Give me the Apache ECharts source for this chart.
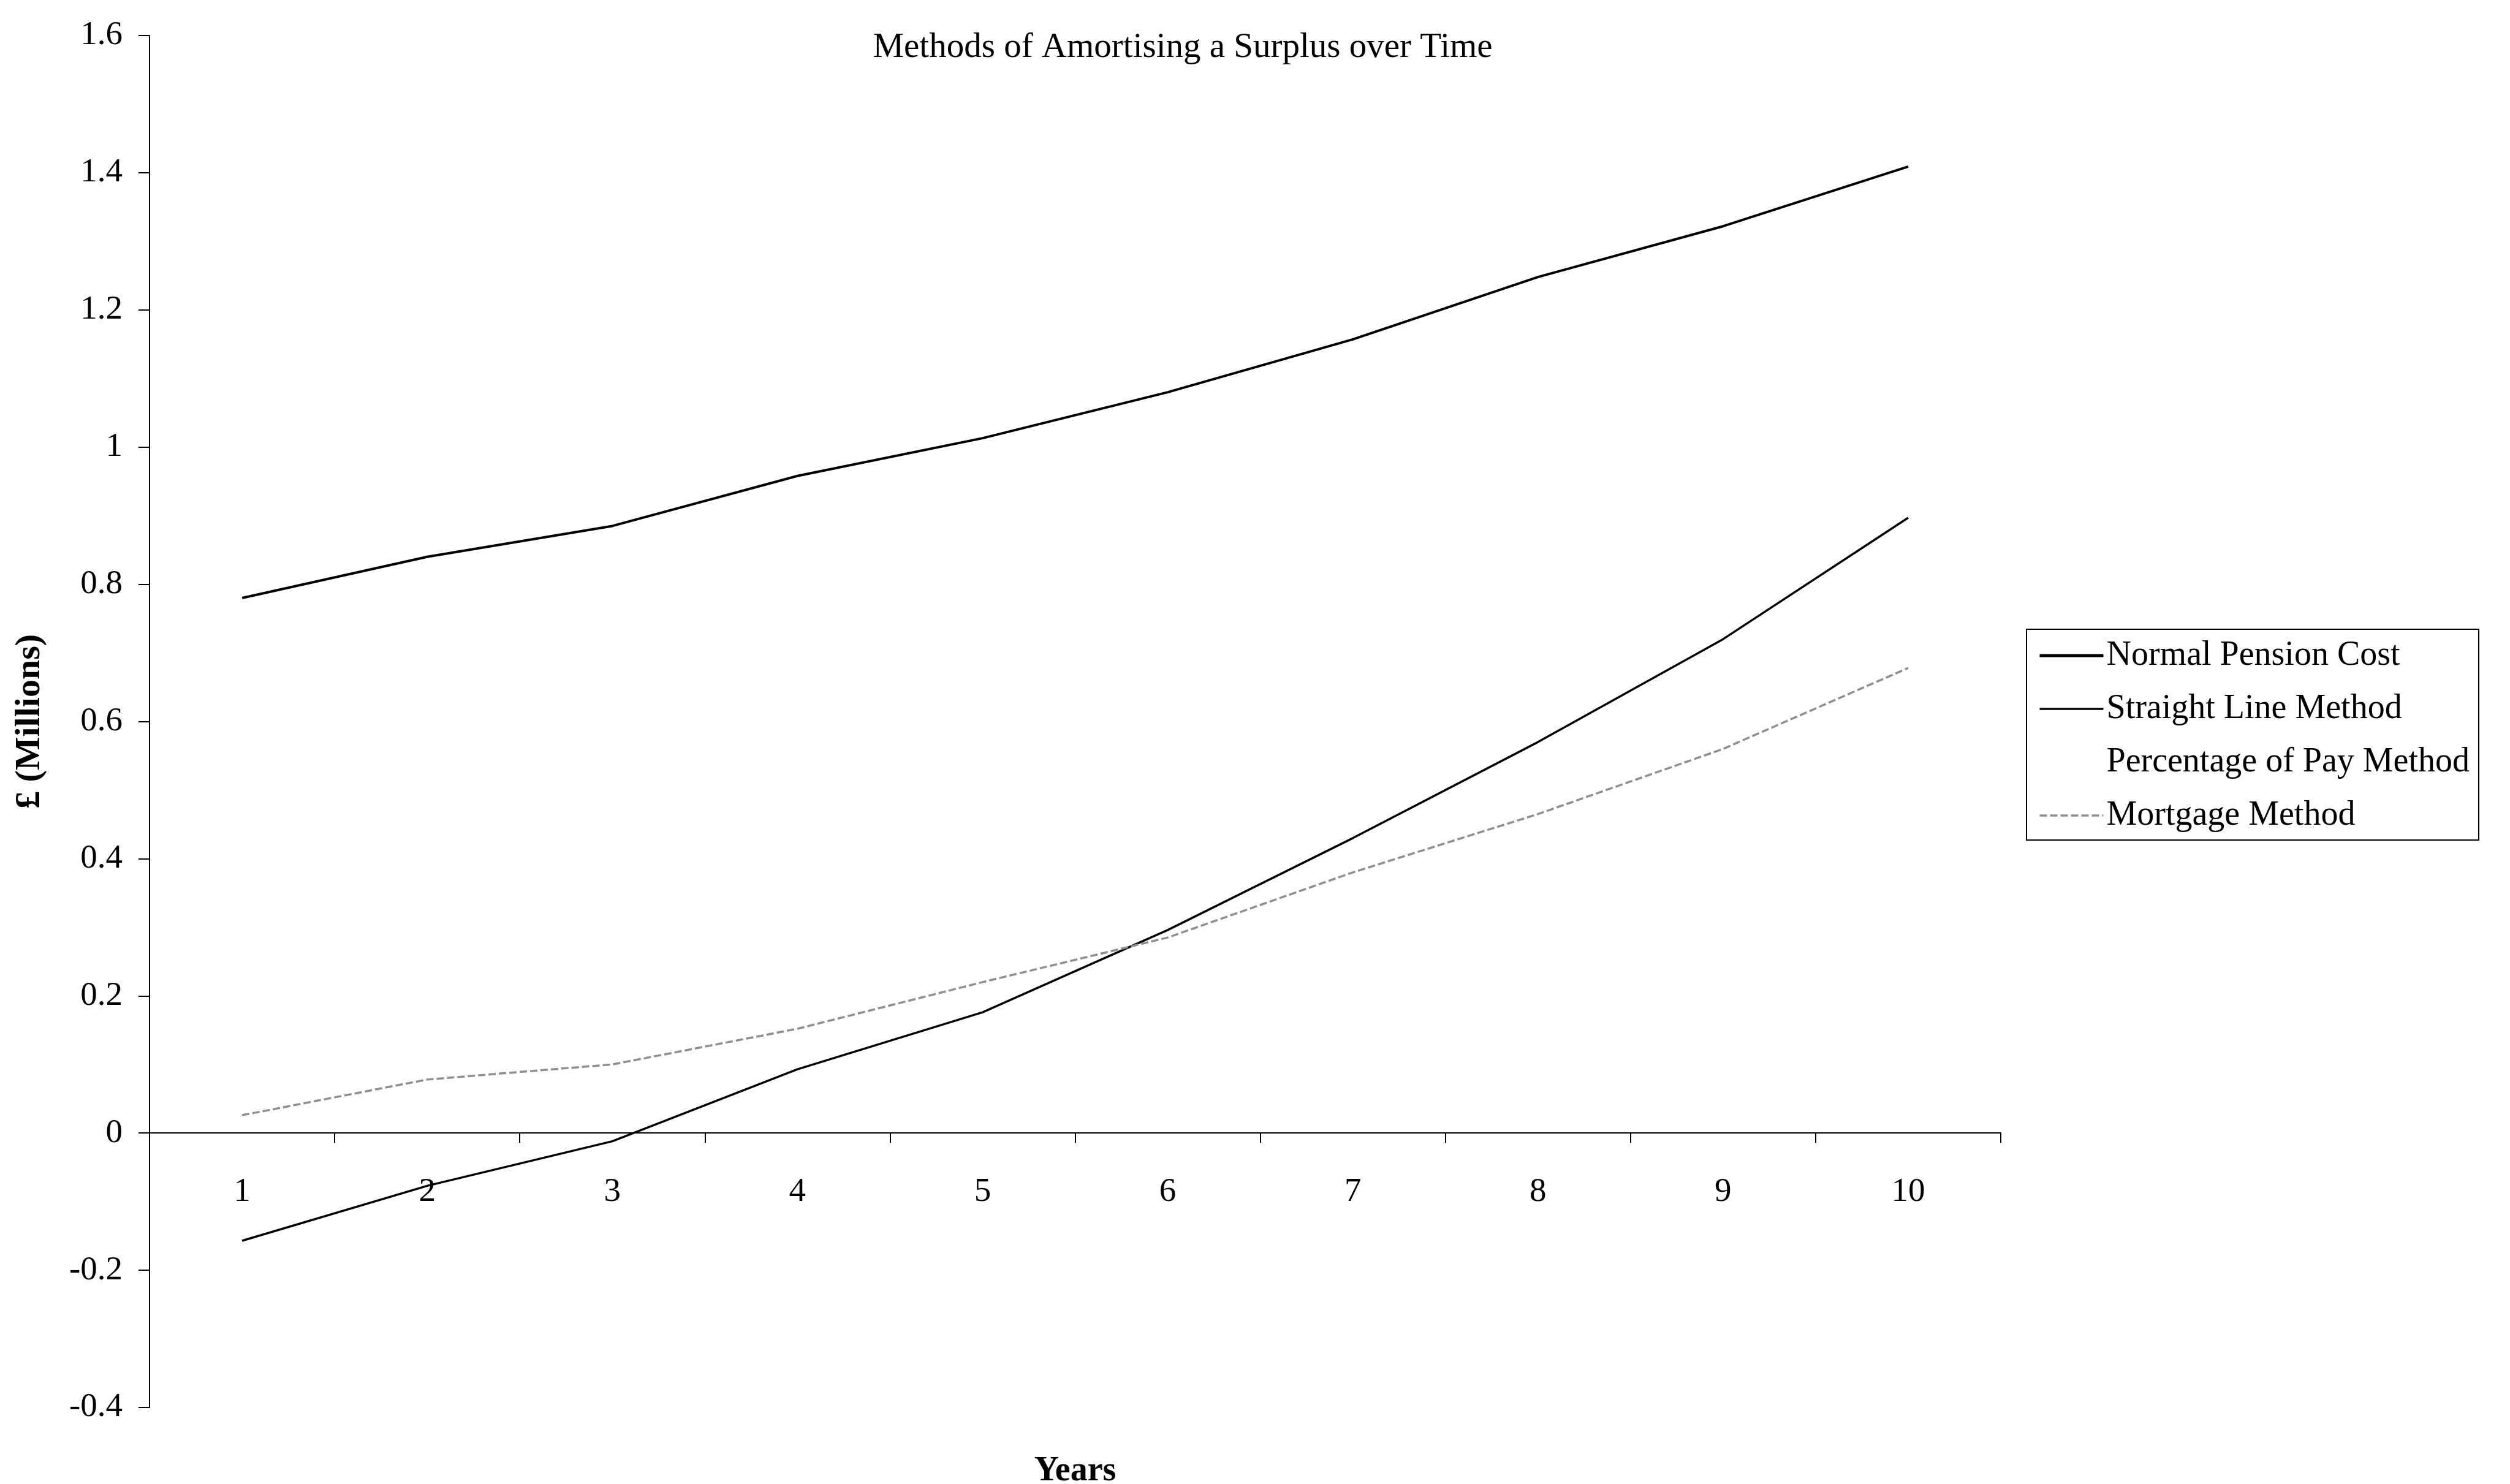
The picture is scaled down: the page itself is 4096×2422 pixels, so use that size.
<!DOCTYPE html>
<html>
<head>
<meta charset="utf-8">
<script src="https://cdn.jsdelivr.net/npm/echarts@6/dist/echarts.min.js"></script>
<style>
html,body{margin:0;padding:0;background:#fff;}
#chart{width:4096px;height:2422px;}
</style>
</head>
<body>
<div id="chart"></div>
<script>
const years = ['1','2','3','4','5','6','7','8','9','10'];
const normalPensionCost = [0.78, 0.84, 0.885, 0.958, 1.013, 1.08, 1.157, 1.248, 1.322, 1.409];
const straightLineMethod = [-0.157, -0.077, -0.012, 0.093, 0.176, 0.296, 0.43, 0.57, 0.72, 0.897];
const percentageOfPayMethod = [];
const mortgageMethod = [0.026, 0.078, 0.1, 0.152, 0.22, 0.285, 0.38, 0.465, 0.56, 0.678];
const seriesNames = ['Normal Pension Cost', 'Straight Line Method', 'Percentage of Pay Method', 'Mortgage Method'];

const FONT = "'Liberation Serif', 'Times New Roman', serif";
const Y_MIN = -0.4, Y_MAX = 1.6;
const GRID_TOP = 58, GRID_H = 2239;
// x axis sits on the zero line: move it up from the grid bottom by the zero offset
const zeroOffset = GRID_H * (0 - Y_MIN) / (Y_MAX - Y_MIN);

const chart = echarts.init(document.getElementById('chart'));
chart.setOption({
  backgroundColor: '#ffffff',
  animation: false,
  title: {
    text: 'Methods of Amortising a Surplus over Time',
    left: 1925, top: 45, textAlign: 'center',
    textStyle: {fontFamily: FONT, fontSize: 57, fontWeight: 'normal', color: '#000'}
  },
  legend: {
    orient: 'vertical',
    left: 3307, top: 1027,
    padding: [15, 15, 12, 19],
    itemWidth: 104, itemHeight: 6, itemGap: 31,
    itemStyle: {opacity: 0},
    borderColor: '#000', borderWidth: 2,
    textStyle: {fontFamily: FONT, fontSize: 56, color: '#000'},
    data: [
      {name: seriesNames[0], lineStyle: {width: 5}},
      {name: seriesNames[1], lineStyle: {width: 3.5}},
      {name: seriesNames[2]},
      {name: seriesNames[3], lineStyle: {width: 3.5}}
    ]
  },
  grid: {left: 244, top: GRID_TOP, width: 3021, height: GRID_H, outerBoundsMode: 'none', containLabel: false},
  xAxis: {
    type: 'category',
    data: years,
    boundaryGap: true,
    offset: -zeroOffset,
    name: 'Years',
    nameLocation: 'middle',
    nameGap: 524,
    nameTextStyle: {fontFamily: FONT, fontSize: 56, fontWeight: 'bold', color: '#000'},
    axisLine: {show: true, onZero: false, lineStyle: {color: '#000', width: 2}},
    axisTick: {show: true, length: 16, alignWithLabel: false, lineStyle: {color: '#000', width: 2}},
    axisLabel: {fontFamily: FONT, fontSize: 55, color: '#000', margin: 69, interval: 0},
    splitLine: {show: false}
  },
  yAxis: {
    type: 'value',
    min: Y_MIN, max: Y_MAX, interval: 0.2,
    name: '£ (Millions)',
    nameLocation: 'middle',
    nameGap: 166,
    nameRotate: 90,
    nameTextStyle: {fontFamily: FONT, fontSize: 58, fontWeight: 'bold', color: '#000'},
    axisLine: {show: true, lineStyle: {color: '#000', width: 2}},
    axisTick: {show: true, length: 18, lineStyle: {color: '#000', width: 2}},
    axisLabel: {fontFamily: FONT, fontSize: 55, color: '#000', margin: 44,
      formatter: v => String(Math.round(v * 10) / 10)},
    splitLine: {show: false}
  },
  series: [
    {name: seriesNames[0], type: 'line', data: normalPensionCost, symbol: 'none',
      lineStyle: {color: '#000', width: 4}, itemStyle: {color: '#000'}},
    {name: seriesNames[1], type: 'line', data: straightLineMethod, symbol: 'none',
      lineStyle: {color: '#000', width: 3.5}, itemStyle: {color: '#000'}},
    {name: seriesNames[2], type: 'line', data: percentageOfPayMethod, symbol: 'none',
      lineStyle: {color: '#ffffff', width: 3}, itemStyle: {color: '#ffffff'}},
    {name: seriesNames[3], type: 'line', data: mortgageMethod, symbol: 'none',
      lineStyle: {color: '#8f8f8f', width: 3.5, type: [12, 5]}, itemStyle: {color: '#8f8f8f'}}
  ]
});
</script>
</body>
</html>
